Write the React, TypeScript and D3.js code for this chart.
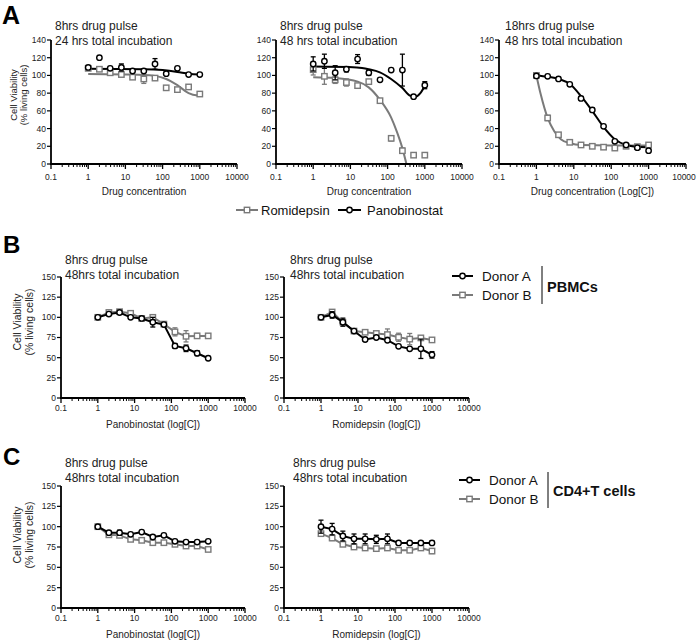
import React from 'react';
import * as d3 from 'd3';

const FONT = '"Liberation Sans", Arial, Helvetica, sans-serif';
const BLACK = '#000000';
const GRAY = '#7a7a7a';

const conc = [1, 2, 3.9, 7.8, 15.6, 31.25, 62.5, 125, 250, 500, 1000];
const xTickValues = [0.1, 1, 10, 100, 1000, 10000];
const xTickLabels = ['0.1', '1', '10', '100', '1000', '10000'];
const yTicksA = [0, 20, 40, 60, 80, 100, 120, 140];
const yTicksBC = [0, 25, 50, 75, 100, 125, 150];

// Panel A1 : 8hrs pulse / 24 hrs
const a1Pano = [109, 120, 108, 109, 105, 105, 113, 102, 108, 101, 101];
const a1PanoErr = [1, 0, 1, 4, 1, 1, 6, 1, 1, 1, 1];
const a1Romi = [108, 107, 103, 101, 98, 96, 97, 86, 84, 87, 79];
const a1RomiErr = [1, 1, 1, 1, 1, 5, 2, 1, 1, 1, 1];
const a1PanoFitX = [1, 30, 100, 250, 500, 1000];
const a1PanoFitY = [107.5, 107, 106, 104, 102, 101];
const a1RomiFitX = [1, 30, 62, 125, 250, 500, 800, 1000];
const a1RomiFitY = [101.5, 100.5, 99.5, 96, 89, 80, 77.5, 78];

// Panel A2 : 8hrs pulse / 48 hrs
const a2Pano = [113, 116, 103, 107, 118.5, 103, 95, 106, 106, 76, 89];
const a2PanoErr = [8, 8, 8, 3, 5, 3, 1, 1, 18, 1, 4];
const a2Romi = [106.5, 99, 95, 92, 88.5, 93, 71.5, 29, 15, 10, 10];
const a2RomiErr = [6, 9, 4, 4, 2, 1, 2, 3, 3, 1, 1];
const a2PanoFitX = [1, 15, 31, 62, 124, 246, 410, 560, 760, 980];
const a2PanoFitY = [110, 109, 107, 103.5, 96, 86, 77, 76, 80, 87.5];
const a2RomiFitX = [1, 4, 15.8, 31, 62, 124, 180, 246, 321];
const a2RomiFitY = [98, 97, 93, 86.5, 72.6, 52.7, 35.8, 18.8, 0];

// Panel A3 : 18hrs pulse / 48 hrs
const a3Pano = [99.4, 99, 96, 90, 74, 61, 42.5, 25.6, 21.5, 18.4, 15];
const a3PanoErr = [1, 1, 1, 1, 2, 2, 1, 1, 1, 1, 1];
const a3Romi = [100, 52, 33, 24.5, 21.5, 20, 19, 18, 20, 19.6, 21.5];
const a3RomiErr = [1, 3, 2, 1, 1, 1, 1, 1, 1, 1, 1];
const a3PanoFitX = [1, 2, 4, 8, 16, 31, 62, 125, 250, 500, 1000];
const a3PanoFitY = [100, 98.5, 96, 90, 76, 60, 42, 28, 21.5, 19.5, 19];
const a3RomiFitX = [1, 1.3, 2, 3, 4.5, 8, 16, 100, 1000];
const a3RomiFitY = [100, 79, 52, 37, 28, 23.4, 21.5, 21, 21];

// Panel B (PBMCs)
const b1DonorA = [100, 104, 106, 100, 98.6, 94, 91, 64.5, 61.6, 55.5, 49.3];
const b1DonorAErr = [1, 2, 2, 1, 2, 6, 2, 3, 4, 3, 1];
const b1DonorB = [100, 106, 107, 105, 98.6, 100, 91.6, 82, 76.5, 77, 77];
const b1DonorBErr = [1, 3, 2, 1, 1, 3, 2, 5, 7, 3, 2];
const b2DonorA = [100, 103, 94, 83, 72.5, 75, 71.6, 64, 61, 61, 53.5];
const b2DonorAErr = [1, 4, 5, 2, 2, 1, 1, 1, 1, 12, 4];
const b2DonorB = [100, 106.6, 94, 83, 81.5, 80, 78.6, 75.3, 73, 74.5, 72];
const b2DonorBErr = [1, 2, 2, 1, 2, 1, 7, 5, 7, 2, 1];

// Panel C (CD4+T cells)
const c1DonorA = [100, 92.6, 92.6, 90.6, 93.4, 87.3, 89.3, 82, 81, 81, 82];
const c1DonorAErr = [1, 2, 3, 1, 1, 2, 1, 1, 1, 1, 1];
const c1DonorB = [100, 90, 89.3, 84.4, 83.2, 80.3, 80.3, 78.3, 76.2, 76.2, 72];
const c1DonorBErr = [1, 2, 1, 1, 1, 1, 1, 1, 1, 1, 2];
const c2DonorA = [100, 97, 88.5, 85, 85, 84.4, 85, 80, 80, 80, 80];
const c2DonorAErr = [8, 7, 6, 6, 6, 5, 6, 1, 1, 1, 2];
const c2DonorB = [91.4, 86, 78.3, 75, 73.8, 73, 73.8, 71, 71, 73.8, 70];
const c2DonorBErr = [3, 3, 2, 1, 1, 1, 1, 1, 1, 1, 3];

type Series = {
  x: number[];
  y: number[];
  err: number[];
  color: string;
  shape: 'circle' | 'square';
  connect: boolean;
};
type Curve = { x: number[]; y: number[]; color: string };

type PanelProps = {
  left: number;
  right: number;
  top: number;
  bottom: number;
  yMax: number;
  yTicks: number[];
  titleX: number;
  titleY: number;
  titles: string[];
  xTitle: string;
  tickLabelY: number;
  xTitleY: number;
  series: Series[];
  curves: Curve[];
};

function Marker({ cx, cy, shape, color }: { cx: number; cy: number; shape: string; color: string }) {
  if (shape === 'circle') {
    return <circle cx={cx} cy={cy} r={2.7} fill="#fff" stroke={color} strokeWidth={1.4} />;
  }
  return <rect x={cx - 2.7} y={cy - 2.7} width={5.4} height={5.4} fill="#fff" stroke={color} strokeWidth={1.4} />;
}

function Panel(p: PanelProps) {
  const xs = d3.scaleLog().domain([0.1, 10000]).range([p.left, p.right]);
  const ys = d3.scaleLinear().domain([0, p.yMax]).range([p.bottom, p.top]);
  const minor: number[] = [];
  for (let d = -1; d <= 3; d++) {
    for (let k = 2; k <= 9; k++) minor.push(k * Math.pow(10, d));
  }
  const lineGen = d3
    .line<[number, number]>()
    .x((d) => xs(d[0]))
    .y((d) => ys(d[1]));
  const curveGen = d3
    .line<[number, number]>()
    .x((d) => xs(d[0]))
    .y((d) => ys(d[1]))
    .curve(d3.curveMonotoneX);

  return (
    <g>
      {p.curves.map((c, i) => (
        <path
          key={'c' + i}
          d={curveGen(c.x.map((v, j) => [v, c.y[j]] as [number, number])) || ''}
          fill="none"
          stroke={c.color}
          strokeWidth={2}
        />
      ))}
      {p.series.map((s, i) => (
        <g key={'s' + i}>
          {s.connect && (
            <path
              d={lineGen(s.x.map((v, j) => [v, s.y[j]] as [number, number])) || ''}
              fill="none"
              stroke={s.color}
              strokeWidth={2}
            />
          )}
          {s.x.map((v, j) =>
            s.err[j] > 1.5 ? (
              <g key={'e' + j} stroke={s.color} strokeWidth={1.3}>
                <line x1={xs(v)} x2={xs(v)} y1={ys(s.y[j] - s.err[j])} y2={ys(s.y[j] + s.err[j])} />
                <line x1={xs(v) - 2.5} x2={xs(v) + 2.5} y1={ys(s.y[j] - s.err[j])} y2={ys(s.y[j] - s.err[j])} />
                <line x1={xs(v) - 2.5} x2={xs(v) + 2.5} y1={ys(s.y[j] + s.err[j])} y2={ys(s.y[j] + s.err[j])} />
              </g>
            ) : null
          )}
          {s.x.map((v, j) => (
            <Marker key={'m' + j} cx={xs(v)} cy={ys(s.y[j])} shape={s.shape} color={s.color} />
          ))}
        </g>
      ))}
      <line x1={p.left} x2={p.left} y1={p.top} y2={p.bottom + 0.9} stroke="#000" strokeWidth={1.8} />
      {p.yTicks.map((t) => (
        <g key={'y' + t}>
          <line x1={p.left - 4} x2={p.left} y1={ys(t)} y2={ys(t)} stroke="#000" strokeWidth={1.2} />
          <text
            x={p.left - 5}
            y={ys(t)}
            dy="0.35em"
            textAnchor="end"
            fontSize={8.5}
            fontFamily={FONT}
            fill="#222"
          >
            {t}
          </text>
        </g>
      ))}
      <line x1={p.left - 0.9} x2={p.right} y1={p.bottom} y2={p.bottom} stroke="#000" strokeWidth={1.8} />
      {minor.map((t, i) => (
        <line key={'mn' + i} x1={xs(t)} x2={xs(t)} y1={p.bottom} y2={p.bottom + 3} stroke="#000" strokeWidth={1} />
      ))}
      {xTickValues.map((t, i) => (
        <g key={'x' + t}>
          <line x1={xs(t)} x2={xs(t)} y1={p.bottom} y2={p.bottom + 5} stroke="#000" strokeWidth={1.3} />
          <text
            x={Math.min(xs(t), 684)}
            y={p.tickLabelY}
            textAnchor="middle"
            fontSize={8.5}
            fontFamily={FONT}
            fill="#222"
          >
            {xTickLabels[i]}
          </text>
        </g>
      ))}
      <text
        x={(p.left + p.right) / 2}
        y={p.xTitleY}
        textAnchor="middle"
        fontSize={10}
        fontFamily={FONT}
        fill="#222"
      >
        {p.xTitle}
      </text>
      {p.titles.map((t, i) => (
        <text key={'t' + i} x={p.titleX} y={p.titleY + i * 15} fontSize={12} fontFamily={FONT} fill="#222">
          {t}
        </text>
      ))}
    </g>
  );
}

function YLabel({ x, y, size }: { x: number; y: number; size: number }) {
  return (
    <g transform={`translate(${x},${y}) rotate(-90)`}>
      <text x={0} y={0} textAnchor="middle" dominantBaseline="central" fontSize={size} fontFamily={FONT} fill="#222">
        Cell Viability
      </text>
      <text
        x={0}
        y={size * 1.15}
        textAnchor="middle"
        dominantBaseline="central"
        fontSize={size}
        fontFamily={FONT}
        fill="#222"
      >
        (% living cells)
      </text>
    </g>
  );
}

function mk(y: number[], err: number[], color: string, shape: 'circle' | 'square', connect: boolean): Series {
  return { x: conc, y, err, color, shape, connect };
}

export default function App() {
  const aCommon = { top: 40, bottom: 164, yMax: 140, yTicks: yTicksA, titleY: 30, tickLabelY: 180, xTitleY: 195 };
  const bCommon = { top: 277, bottom: 398, yMax: 150, yTicks: yTicksBC, titleY: 264, tickLabelY: 411, xTitleY: 428 };
  const cCommon = { top: 486, bottom: 608, yMax: 150, yTicks: yTicksBC, titleY: 467, tickLabelY: 621, xTitleY: 638 };

  return (
    <svg width={696} height={641} style={{ position: 'absolute', left: 0, top: 0, background: '#fff' }}>
      <rect x={0} y={0} width={696} height={641} fill="#fff" />
      <text x={2} y={24} fontSize={25} fontWeight="bold" fontFamily={FONT}>A</text>
      <text x={3} y={253} fontSize={24} fontWeight="bold" fontFamily={FONT}>B</text>
      <text x={3} y={465} fontSize={24} fontWeight="bold" fontFamily={FONT}>C</text>

      <YLabel x={13} y={95} size={9.5} />
      <Panel
        {...aCommon}
        left={51}
        right={237}
        titleX={55}
        titles={['8hrs drug pulse', '24 hrs total incubation']}
        xTitle="Drug concentration"
        series={[mk(a1Romi, a1RomiErr, GRAY, 'square', false), mk(a1Pano, a1PanoErr, BLACK, 'circle', false)]}
        curves={[
          { x: a1RomiFitX, y: a1RomiFitY, color: GRAY },
          { x: a1PanoFitX, y: a1PanoFitY, color: BLACK },
        ]}
      />
      <Panel
        {...aCommon}
        left={276}
        right={462}
        titleX={280}
        titles={['8hrs drug pulse', '48 hrs total incubation']}
        xTitle="Drug concentration"
        series={[mk(a2Romi, a2RomiErr, GRAY, 'square', false), mk(a2Pano, a2PanoErr, BLACK, 'circle', false)]}
        curves={[
          { x: a2RomiFitX, y: a2RomiFitY, color: GRAY },
          { x: a2PanoFitX, y: a2PanoFitY, color: BLACK },
        ]}
      />
      <Panel
        {...aCommon}
        left={499}
        right={686}
        titleX={505}
        titles={['18hrs drug pulse', '48 hrs total incubation']}
        xTitle="Drug concentration (Log[C])"
        series={[mk(a3Romi, a3RomiErr, GRAY, 'square', false), mk(a3Pano, a3PanoErr, BLACK, 'circle', false)]}
        curves={[
          { x: a3RomiFitX, y: a3RomiFitY, color: GRAY },
          { x: a3PanoFitX, y: a3PanoFitY, color: BLACK },
        ]}
      />
      <g fontFamily={FONT} fontSize={13} fill="#111">
        <line x1={236} x2={258} y1={210} y2={210} stroke={GRAY} strokeWidth={2} />
        <Marker cx={247} cy={210} shape="square" color={GRAY} />
        <text x={261} y={210} dominantBaseline="central">Romidepsin</text>
        <line x1={338} x2={361} y1={210} y2={210} stroke={BLACK} strokeWidth={2} />
        <Marker cx={349.5} cy={210} shape="circle" color={BLACK} />
        <text x={367} y={210} dominantBaseline="central">Panobinostat</text>
      </g>

      <YLabel x={17} y={322} size={10.5} />
      <Panel
        {...bCommon}
        left={61}
        right={245}
        titleX={65}
        titles={['8hrs drug pulse', '48hrs total incubation']}
        xTitle="Panobinostat (log[C])"
        series={[mk(b1DonorB, b1DonorBErr, GRAY, 'square', true), mk(b1DonorA, b1DonorAErr, BLACK, 'circle', true)]}
        curves={[]}
      />
      <Panel
        {...bCommon}
        left={284}
        right={469}
        titleX={290}
        titles={['8hrs drug pulse', '48hrs total incubation']}
        xTitle="Romidepsin (log[C])"
        series={[mk(b2DonorB, b2DonorBErr, GRAY, 'square', true), mk(b2DonorA, b2DonorAErr, BLACK, 'circle', true)]}
        curves={[]}
      />
      <g fontFamily={FONT} fontSize={13.5} fill="#111">
        <line x1={452} x2={473} y1={276} y2={276} stroke={BLACK} strokeWidth={2} />
        <Marker cx={462.5} cy={276} shape="circle" color={BLACK} />
        <text x={482} y={276} dominantBaseline="central">Donor A</text>
        <line x1={452} x2={473} y1={295} y2={295} stroke={GRAY} strokeWidth={2} />
        <Marker cx={462.5} cy={295} shape="square" color={GRAY} />
        <text x={482} y={295} dominantBaseline="central">Donor B</text>
        <line x1={542} x2={542} y1={266} y2={304} stroke="#000" strokeWidth={1} />
        <text x={547} y={287} dominantBaseline="central" fontWeight="bold" fontSize={14.5}>PBMCs</text>
      </g>

      <YLabel x={17} y={535} size={10.5} />
      <Panel
        {...cCommon}
        left={61}
        right={245}
        titleX={65}
        titles={['8hrs drug pulse', '48hrs total incubation']}
        xTitle="Panobinostat (log[C])"
        series={[mk(c1DonorB, c1DonorBErr, GRAY, 'square', true), mk(c1DonorA, c1DonorAErr, BLACK, 'circle', true)]}
        curves={[]}
      />
      <Panel
        {...cCommon}
        left={284}
        right={469}
        titleX={293}
        titles={['8hrs drug pulse', '48hrs total incubation']}
        xTitle="Romidepsin (log[C])"
        series={[mk(c2DonorB, c2DonorBErr, GRAY, 'square', true), mk(c2DonorA, c2DonorAErr, BLACK, 'circle', true)]}
        curves={[]}
      />
      <g fontFamily={FONT} fontSize={13.5} fill="#111">
        <line x1={459} x2={480} y1={480} y2={480} stroke={BLACK} strokeWidth={2} />
        <Marker cx={469.5} cy={480} shape="circle" color={BLACK} />
        <text x={489} y={480} dominantBaseline="central">Donor A</text>
        <line x1={459} x2={480} y1={499} y2={499} stroke={GRAY} strokeWidth={2} />
        <Marker cx={469.5} cy={499} shape="square" color={GRAY} />
        <text x={489} y={499} dominantBaseline="central">Donor B</text>
        <line x1={548} x2={548} y1={472} y2={508} stroke="#000" strokeWidth={1} />
        <text x={553} y={491} dominantBaseline="central" fontWeight="bold" fontSize={14.5}>CD4+T cells</text>
      </g>
    </svg>
  );
}
